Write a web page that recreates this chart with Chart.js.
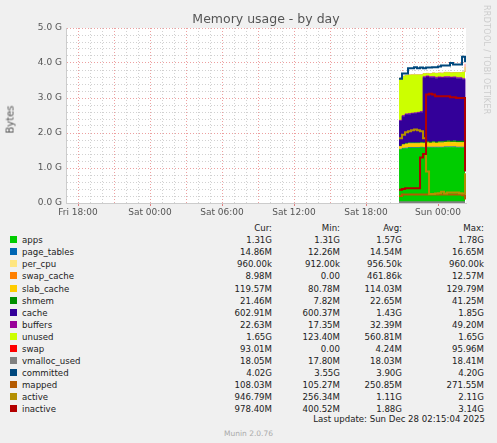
<!DOCTYPE html>
<html lang="en">
<head>
<meta charset="UTF-8">
<title>Memory usage - by day</title>
<script src="https://cdn.jsdelivr.net/npm/chart.js"></script>
<style>
  body { margin: 0; background: #f0f0f0; font-family: "DejaVu Sans", sans-serif; width: 497px; height: 443px; position: relative; overflow: hidden; }
  #wrap { position: absolute; left: 0; top: 0; width: 497px; height: 215px; }
  #title { position: absolute; top: 11px; left: 0; width: 532px; text-align: center; font-size: 12.5px; color: #555; }
  #ylab { position: absolute; left: -4px; top: 114px; transform: rotate(-90deg); font-size: 10px; color: #555; }
  #side { position: absolute; left: 482px; top: 5px; writing-mode: vertical-rl; font-size: 8px; color: #ccc; letter-spacing: 0.3px; }
  table { position: absolute; left: 10px; top: 222px; border-collapse: collapse; font-size: 8.6px; color: #222; }
  td { padding: 0; height: 12.1px; line-height: 12px; white-space: nowrap; }
  td.n { text-align: right; }
  .sw { display: inline-block; width: 7px; height: 7px; margin-right: 5px; vertical-align: -0px; }
  #upd { position: absolute; right: 12px; top: 414px; font-size: 8.6px; color: #222; }
  #munin { position: absolute; left: 0; width: 497px; top: 429px; text-align: center; font-size: 7.5px; color: #aaa; }
</style>
</head>
<body>
<div id="wrap"><canvas id="c"></canvas></div>
<div id="title">Memory usage - by day</div>
<div id="ylab">Bytes</div>
<div id="side">RRDTOOL / TOBI OETIKER</div>
<table id="leg"></table>
<div id="upd">Last update: Sun Dec 28 02:15:04 2025</div>
<div id="munin">Munin 2.0.76</div>
<script>
// hours since Fri 17:00
const times = [27.75,28.0,28.25,28.5,28.75,29.0,29.25,29.5,29.75,30.0,30.25,30.5,30.75,31.0,31.25,31.5,31.75,32.0,32.25,32.5,32.75,33.0,33.25];
const tickHours = [1, 7, 13, 19, 25, 31];
const tickLabels = ['Fri 18:00', 'Sat 00:00', 'Sat 06:00', 'Sat 12:00', 'Sat 18:00', 'Sun 00:00'];

// values in GB
const apps =       [1.52,1.55,1.56,1.57,1.57,1.57,1.57,1.58,1.57,1.58,1.58,1.58,1.58,1.58,1.58,1.59,1.59,1.59,1.59,1.58,1.58,1.58,1.45];
const pageTables = [0.014,0.015,0.015,0.015,0.015,0.015,0.015,0.015,0.015,0.015,0.015,0.015,0.015,0.015,0.015,0.015,0.015,0.015,0.016,0.016,0.016,0.016,0.015];
const perCpu =     [0.001,0.001,0.001,0.001,0.001,0.001,0.001,0.001,0.001,0.001,0.001,0.001,0.001,0.001,0.001,0.001,0.001,0.001,0.001,0.001,0.001,0.001,0.001];
const swapCache =  [0,0,0.002,0.003,0.004,0.004,0.005,0.006,0.006,0.007,0.008,0.008,0.009,0.009,0.009,0.01,0.01,0.011,0.011,0.012,0.012,0.012,0.009];
const slabCache =  [0.08,0.1,0.11,0.11,0.11,0.11,0.11,0.11,0.11,0.12,0.11,0.12,0.11,0.12,0.12,0.12,0.13,0.12,0.12,0.12,0.12,0.12,0.12];
const shmem =      [0.008,0.015,0.02,0.02,0.022,0.022,0.022,0.023,0.025,0.03,0.03,0.03,0.03,0.03,0.035,0.035,0.035,0.035,0.04,0.04,0.04,0.041,0.021];
const cache =      [0.72,0.8,0.82,0.82,0.83,0.84,0.85,0.86,1.86,1.85,1.84,1.83,1.82,1.82,1.81,1.81,1.8,1.8,1.8,1.79,1.79,1.76,0.6];
const buffers =    [0.02,0.02,0.02,0.02,0.02,0.02,0.02,0.02,0.03,0.03,0.03,0.03,0.03,0.03,0.03,0.03,0.03,0.03,0.03,0.03,0.03,0.03,0.023];
const unused =     [1.2,1.12,1.1,1.1,1.09,1.08,1.07,1.05,0.08,0.07,0.08,0.1,0.11,0.11,0.11,0.12,0.12,0.12,0.12,0.14,0.14,0.18,1.65];
const swap =       [0,0,0,0,0,0,0,0,0,0,0,0,0,0,0,0,0,0,0,0,0,0,0.09];
const vmalloc =    [0.018,0.018,0.018,0.018,0.018,0.018,0.018,0.018,0.018,0.018,0.018,0.018,0.018,0.018,0.018,0.018,0.018,0.018,0.018,0.018,0.018,0.018,0.018];
const committed =  [3.55,3.7,3.7,3.85,3.85,3.88,3.85,3.87,3.85,3.87,3.87,3.88,3.88,3.9,3.93,3.93,3.93,4.0,3.96,3.96,3.96,4.18,4.02];
const mapped =     [0.2,0.24,0.24,0.24,0.24,0.24,0.24,0.24,0.24,0.24,0.24,0.24,0.24,0.24,0.24,0.24,0.24,0.24,0.24,0.24,0.24,0.22,0.1];
const active =     [1.85,1.95,2.02,2.05,2.08,2.1,2.08,2.05,1.85,0.9,0.26,0.26,0.27,0.28,0.32,0.27,0.3,0.3,0.3,0.3,0.28,0.27,0.85];
const inactive =   [0.38,0.4,0.42,0.42,0.42,0.42,0.42,1.3,1.4,3.1,3.12,3.1,3.05,3.05,3.05,3.05,3.05,3.02,3.02,3.0,3.0,3.0,0.9];

const legendRows = [
  ['apps', '#00cc00', '1.31G', '1.31G', '1.57G', '1.78G'],
  ['page_tables', '#0066b3', '14.86M', '12.26M', '14.54M', '16.65M'],
  ['per_cpu', '#ffe680', '960.00k', '912.00k', '956.50k', '960.00k'],
  ['swap_cache', '#ff8000', '8.98M', '0.00', '461.86k', '12.57M'],
  ['slab_cache', '#ffcc00', '119.57M', '80.78M', '114.03M', '129.79M'],
  ['shmem', '#008f00', '21.46M', '7.82M', '22.65M', '41.25M'],
  ['cache', '#330099', '602.91M', '600.37M', '1.43G', '1.85G'],
  ['buffers', '#990099', '22.63M', '17.35M', '32.39M', '49.20M'],
  ['unused', '#ccff00', '1.65G', '123.40M', '560.81M', '1.65G'],
  ['swap', '#ff0000', '93.01M', '0.00', '4.24M', '95.96M'],
  ['vmalloc_used', '#808080', '18.05M', '17.80M', '18.03M', '18.41M'],
  ['committed', '#00487d', '4.02G', '3.55G', '3.90G', '4.20G'],
  ['mapped', '#b35a00', '108.03M', '105.27M', '250.85M', '271.55M'],
  ['active', '#b38f00', '946.79M', '256.34M', '1.11G', '2.11G'],
  ['inactive', '#b30000', '978.40M', '400.52M', '1.88G', '3.14G']
];

const leg = document.getElementById('leg');
let html = '<tr><td style="width:200px"></td><td class="n" style="width:62px">Cur:</td><td class="n" style="width:68px">Min:</td><td class="n" style="width:62px">Avg:</td><td class="n" style="width:82px">Max:</td></tr>';
legendRows.forEach(r => {
  html += `<tr><td><span class="sw" style="background:${r[1]}"></span>${r[0]}</td><td class="n">${r[2]}</td><td class="n">${r[3]}</td><td class="n">${r[4]}</td><td class="n">${r[5]}</td></tr>`;
});
leg.innerHTML = html;

const pts = arr => times.map((t, i) => ({ x: t, y: arr[i] }));
const areas = [
  [apps, '#00cc00'], [pageTables, '#0066b3'], [perCpu, '#ffe680'], [swapCache, '#ff8000'],
  [slabCache, '#ffcc00'], [shmem, '#008f00'], [cache, '#330099'], [buffers, '#990099'],
  [unused, '#ccff00'], [swap, '#ff0000']
];
const lines = [
  [vmalloc, '#808080'], [committed, '#00487d'], [mapped, '#b35a00'], [active, '#b38f00'], [inactive, '#b30000']
];

const datasets = [];
areas.forEach(([arr, col], i) => {
  datasets.push({
    data: pts(arr), stack: 'mem', fill: i === 0 ? 'origin' : '-1', order: 5,
    backgroundColor: col, borderColor: col, borderWidth: 0.5, pointRadius: 0, stepped: true
  });
});
lines.forEach(([arr, col], i) => {
  datasets.push({
    data: pts(arr), stack: 'l' + i, fill: false, order: 4 - i,
    borderColor: col, borderWidth: 2, pointRadius: 0, stepped: true
  });
});

new Chart(document.getElementById('c'), {
  type: 'line',
  data: { datasets },
  options: {
    responsive: true, maintainAspectRatio: false, animation: false,
    layout: { padding: { top: 28, right: 31, left: 0, bottom: 0 } },
    plugins: { legend: { display: false }, tooltip: { enabled: false },
      title: { display: false } },
    scales: {
      x: {
        type: 'linear', min: 0, max: 33.33,
        afterBuildTicks: s => { s.ticks = []; for (let h = 0; h <= 33; h++) s.ticks.push({ value: h }); },
        ticks: {
          autoSkip: false, maxRotation: 0, padding: 1,
          font: { family: 'DejaVu Sans', size: 9 }, color: '#555',
          callback: v => { const k = tickHours.indexOf(v); return k >= 0 ? tickLabels[k] : ''; }
        },
        grid: {
          color: c => ((c.tick.value - 1) % 3 === 0 ? 'rgba(230,120,120,0.7)' : 'rgba(190,190,190,0.7)'),
          drawTicks: true, tickLength: 3, tickColor: c => ((c.tick.value - 1) % 6 === 0 ? '#e08080' : 'transparent')
        },
        border: { dash: [1, 2], color: '#ccc' },
        afterFit: s => { s.height = 12; }
      },
      y: {
        stacked: true, min: 0, max: 5,
        afterBuildTicks: s => { s.ticks = []; for (let v = 0; v <= 25; v++) s.ticks.push({ value: v / 5 }); },
        ticks: {
          autoSkip: false, padding: 4,
          font: { family: 'DejaVu Sans', size: 9 }, color: '#555',
          callback: v => (Math.abs(v - Math.round(v)) < 1e-6 ? v.toFixed(1) + ' G' : '')
        },
        grid: {
          color: c => (Math.abs(c.tick.value - Math.round(c.tick.value)) < 1e-6 ? 'rgba(230,120,120,0.7)' : 'rgba(190,190,190,0.7)'),
          drawTicks: false
        },
        border: { dash: [1, 2], color: '#ccc' },
        afterFit: s => { s.width = 66; }
      }
    }
  },
  plugins: [{
    id: 'bg',
    beforeDraw: ch => {
      const a = ch.chartArea, g = ch.ctx;
      g.save(); g.fillStyle = '#fff'; g.fillRect(a.left, a.top, a.right - a.left, a.bottom - a.top); g.restore();
    }
  }]
});
</script>
</body>
</html>
